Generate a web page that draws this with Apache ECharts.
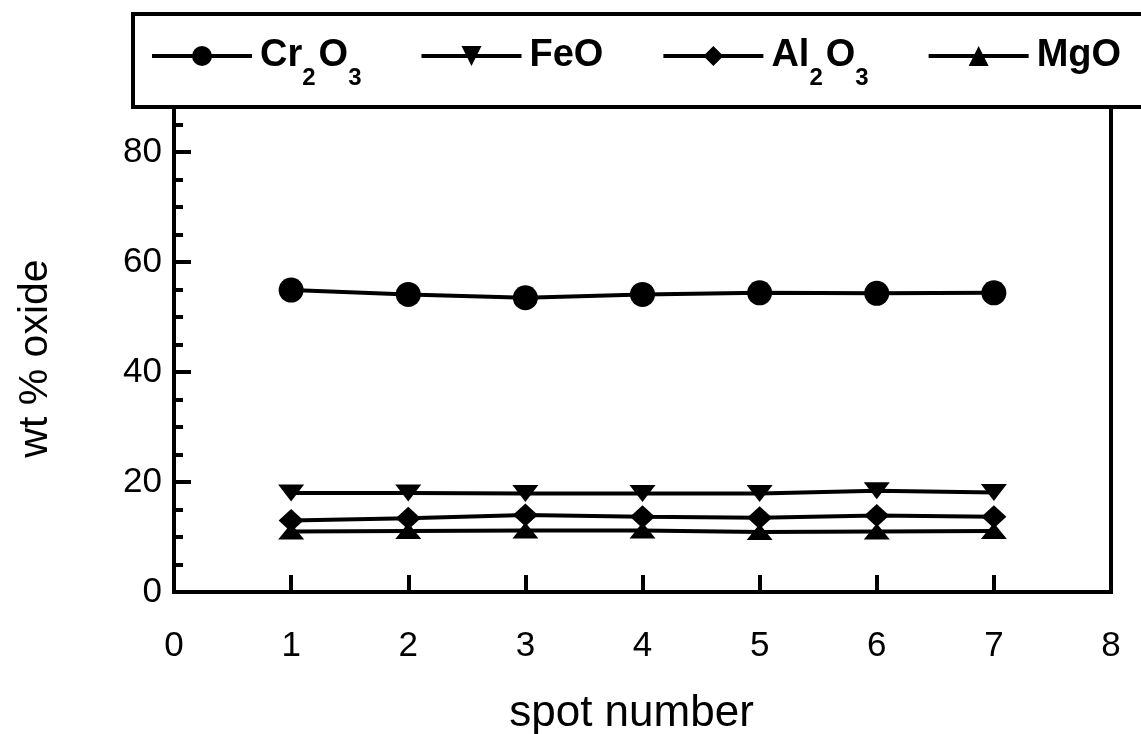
<!DOCTYPE html>
<html>
<head>
<meta charset="utf-8">
<script src="https://cdn.jsdelivr.net/npm/echarts@6/dist/echarts.min.js"></script>
<style>
  html, body { margin: 0; padding: 0; background: #fff; }
  #chart { width: 1141px; height: 734px; }
</style>
</head>
<body>
<div id="chart"></div>
<script>
// spot numbers and oxide contents (wt %)
const spots = [1, 2, 3, 4, 5, 6, 7];
const cr2o3 = [54.9, 54.1, 53.5, 54.1, 54.4, 54.3, 54.4];
const feo   = [18.0, 18.0, 17.9, 17.9, 17.9, 18.4, 18.1];
const al2o3 = [13.0, 13.4, 14.0, 13.7, 13.5, 13.9, 13.7];
const mgo   = [11.0, 11.1, 11.2, 11.2, 10.9, 11.0, 11.1];

const FONT = "'Liberation Sans', Arial, sans-serif";

function pts(vals) {
  return spots.map((s, i) => [s, vals[i]]);
}

function line(name, vals, symbol, size, rotate) {
  return {
    name: name,
    type: "line",
    data: pts(vals),
    symbol: symbol,
    symbolSize: size,
    symbolRotate: rotate || 0,
    showSymbol: true,
    lineStyle: { color: "#000", width: 4 },
    itemStyle: { color: "#000", borderWidth: 0 },
    emphasis: { disabled: true },
    z: 3
  };
}

const chart = echarts.init(document.getElementById("chart"));
chart.setOption({
  animation: false,
  backgroundColor: "#fff",
  textStyle: { fontFamily: FONT },
  grid: {
    left: 174, right: 30, top: 97, bottom: 142,
    outerBoundsMode: "none",
    containLabel: false,
    show: true, borderColor: "#000", borderWidth: 4
  },
  legend: {
    left: 133, top: 14,
    width: 1100,
    padding: [23, 80, 17, 17],
    backgroundColor: "#fff",
    borderColor: "#000",
    borderWidth: 4,
    itemWidth: 100,
    itemHeight: 25,
    itemGap: 58,
    z: 10,
    lineStyle: { width: 4, color: "#000" },
    data: ["Cr2O3", "FeO", "Al2O3", "MgO"],
    formatter: function (n) {
      if (n === "Cr2O3") return "{b|Cr}{s|2}{b|O}{s|3}";
      if (n === "Al2O3") return "{b|Al}{s|2}{b|O}{s|3}";
      return "{b|" + n + "}";
    },
    textStyle: {
      color: "#000",
      rich: {
        b: { fontSize: 38, fontWeight: "bold", fontFamily: FONT, color: "#000", padding: [0, 0, 0, 3] },
        s: { fontSize: 24, fontWeight: "bold", fontFamily: FONT, color: "#000", padding: [44, 0, 0, 0] }
      }
    }
  },
  xAxis: {
    type: "value",
    min: 0, max: 8, interval: 1,
    name: "spot number",
    nameLocation: "middle",
    nameGap: 100,
    nameTextStyle: { fontSize: 44, color: "#000", fontFamily: FONT, padding: [0, 22, 0, 0] },
    axisLine: { lineStyle: { color: "#000", width: 4 } },
    axisTick: { inside: true, length: 17, lineStyle: { color: "#000", width: 4 } },
    axisLabel: { fontSize: 35, color: "#000", margin: 37, fontFamily: FONT },
    splitLine: { show: false }
  },
  yAxis: {
    type: "value",
    min: 0, max: 90, interval: 20,
    name: "wt % oxide",
    nameLocation: "middle",
    nameGap: 118,
    nameTextStyle: { fontSize: 41, color: "#000", fontFamily: FONT, padding: [0, 28, 0, 0] },
    axisLine: { lineStyle: { color: "#000", width: 4 } },
    axisTick: { inside: true, length: 17, lineStyle: { color: "#000", width: 4 } },
    minorTick: { show: true, splitNumber: 4, length: 9, lineStyle: { color: "#000", width: 4 } },
    axisLabel: { fontSize: 35, color: "#000", margin: 12, fontFamily: FONT, showMaxLabel: false },
    splitLine: { show: false },
    minorSplitLine: { show: false }
  },
  series: [
    line("Cr2O3", cr2o3, "circle", 25),
    line("FeO", feo, "triangle", [26, 17], 180),
    line("Al2O3", al2o3, "diamond", [25, 23]),
    line("MgO", mgo, "triangle", [26, 16])
  ]
});
</script>
</body>
</html>
